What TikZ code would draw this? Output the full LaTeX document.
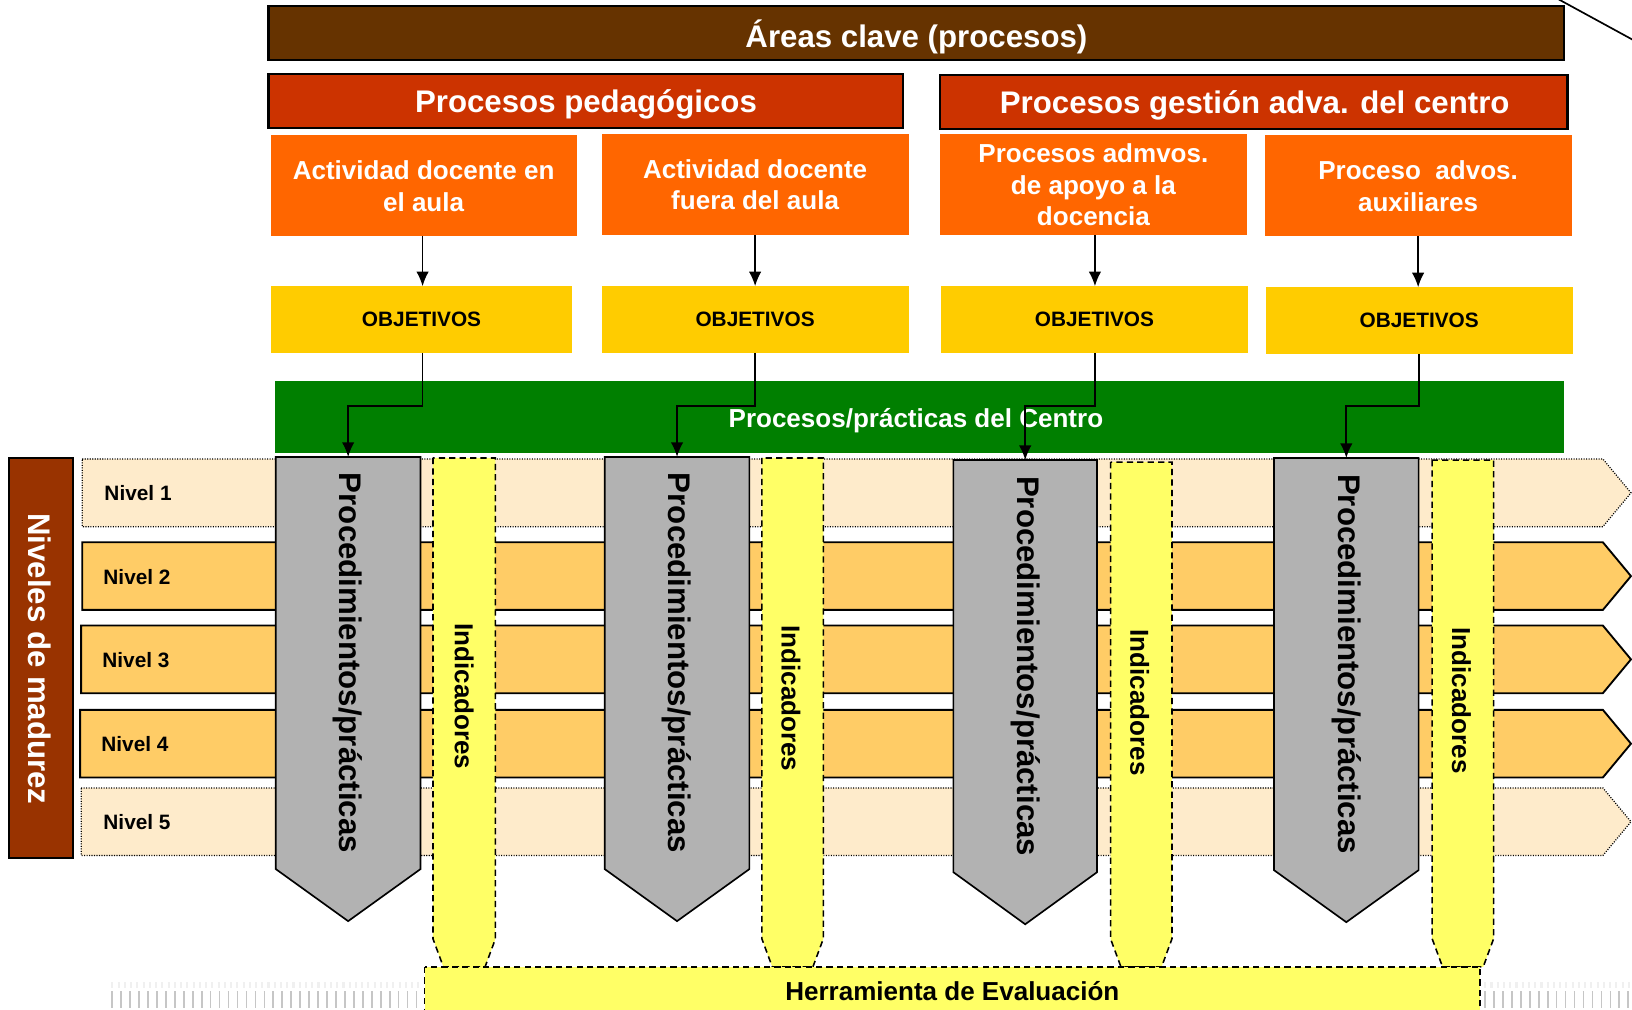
\documentclass[tikz,border=0pt]{standalone}
\usepackage{fontspec}
\setmainfont{Liberation Sans}
\usetikzlibrary{arrows.meta,calc}
\definecolor{cbrown}{HTML}{663300}
\definecolor{cred}{HTML}{CC3300}
\definecolor{corange}{HTML}{FF6600}
\definecolor{cobj}{HTML}{FFCC00}
\definecolor{cgreen}{HTML}{007F00}
\definecolor{cniv}{HTML}{993300}
\definecolor{clight}{HTML}{FEEBCB}
\definecolor{cdark}{HTML}{FFCC66}
\definecolor{cgrey}{HTML}{B2B2B2}
\definecolor{cyel}{HTML}{FFFF66}
\begin{document}
\begin{tikzpicture}[x=0.5pt,y=-0.5pt,
  box/.style={rectangle, inner sep=0pt, outer sep=0pt, align=center},
  titlebox/.style={box, draw=black, line width=1pt, text=white, font=\bfseries\fontsize{15}{18}\selectfont},
  obox/.style={box, fill=corange, text=white, font=\bfseries\fontsize{12.5}{15.3}\selectfont, minimum height=48.5pt},
  objbox/.style={box, fill=cobj, font=\bfseries\fontsize{10}{12}\selectfont, minimum height=32pt},
  conn/.style={-{Latex[length=7pt,width=6pt]}, line width=0.8pt},
  dashy/.style={dash pattern=on 3pt off 2pt, line width=0.75pt},
  lightband/.style={fill=clight, draw=black, line width=0.6pt, dash pattern=on 0.5pt off 0.7pt},
  darkband/.style={fill=cdark, draw=black, line width=0.9pt},
  nivtext/.style={anchor=west, inner sep=0pt, font=\bfseries\fontsize{10}{12}\selectfont},
  pent/.style={fill=cgrey, draw=black, line width=0.8pt},
  pbody/.style={box, minimum width=69.5pt, minimum height=198pt},
  ptext/.style={rotate=-90, font=\bfseries\fontsize{15}{18}\selectfont},
  ind/.style={fill=cyel, draw=black, dashy},
  ibody/.style={box, minimum width=30pt, minimum height=231pt},
  itext/.style={rotate=-90, font=\bfseries\fontsize{12.5}{15}\selectfont},
  ticks/.style={line width=8pt, dash pattern=on 0.8pt off 3.5pt}
]
\clip (0,0) rectangle (1568,970);

% maturity bands
\path[lightband] (79,441) -- (1540,441) -- (1567,473.5) -- (1540,506) -- (79,506) -- cycle;
\path[darkband] (79,521) -- (1540,521) -- (1567,553.5) -- (1540,586) -- (79,586) -- cycle;
\path[darkband] (78,601) -- (1540,601) -- (1567,633.5) -- (1540,666) -- (78,666) -- cycle;
\path[darkband] (77,682) -- (1540,682) -- (1567,714.5) -- (1540,747) -- (77,747) -- cycle;
\path[lightband] (78,757) -- (1540,757) -- (1567,789.5) -- (1540,822) -- (78,822) -- cycle;
\node[nivtext] (n1) at (100,474) {Nivel 1};
\node[nivtext] (n2) at (99,554) {Nivel 2};
\node[nivtext] (n3) at (98,634) {Nivel 3};
\node[nivtext] (n4) at (97,715) {Nivel 4};
\node[nivtext] (n5) at (99,790) {Nivel 5};

% Niveles de madurez
\node[box, fill=cniv, draw=black, line width=1pt, minimum width=30.5pt, minimum height=192pt] (niv) at (39.5,632) {};
\node[rotate=-90, text=white, font=\bfseries\fontsize{15}{18}\selectfont] (nivt) at (38,633) {Niveles de madurez};

% top titles
\node[titlebox, fill=cbrown, minimum width=622.5pt, minimum height=26pt] (areas) at (880.5,32) {};
\node[text=white, font=\bfseries\fontsize{15}{18}\selectfont] (areast) at (880.5,35) {Áreas clave (procesos)};
\draw[line width=0.8pt] (1495,-2) -- (1572,40);
\node[titlebox, fill=cred, minimum width=305pt, minimum height=26pt] (ped) at (563,97) {};
\node[text=white, font=\bfseries\fontsize{15}{18}\selectfont] (pedt) at (563,100) {Procesos pedagógicos};
\node[titlebox, fill=cred, minimum width=301.5pt, minimum height=26pt] (ges) at (1204.5,98) {};
\node[text=white, font=\bfseries\fontsize{15}{18}\selectfont] (gest) at (1205.5,101) {Procesos gestión adva. del centro};

% orange process boxes
\node[obox, minimum width=147pt] (a1) at (407,178.5) {Actividad docente en\\el aula};
\node[obox, minimum width=147.5pt] (a2) at (725.5,177.5) {Actividad docente\\fuera del aula};
\node[obox, minimum width=147.5pt] (a3) at (1050.5,177.5) {Procesos admvos.\\de apoyo a la\\docencia};
\node[obox, minimum width=147.5pt] (a4) at (1362.5,178.5) {Proceso\ \ advos.\\auxiliares};

% objetivos
\node[objbox, minimum width=145pt] (o1) at (405,307) {OBJETIVOS};
\node[objbox, minimum width=147.5pt] (o2) at (725.5,307) {OBJETIVOS};
\node[objbox, minimum width=147.5pt] (o3) at (1051.5,307) {OBJETIVOS};
\node[objbox, minimum width=147.5pt] (o4) at (1363.5,308) {OBJETIVOS};

\draw[conn] (a1.south -| 406,0) -- (o1.north -| 406,0);
\draw[conn] (a2.south) -- (a2.south |- o2.north);
\draw[conn] (a3.south -| 1052,0) -- (o3.north -| 1052,0);
\draw[conn] (a4.south) -- (a4.south |- o4.north);

% green band
\node[box, fill=cgreen, minimum width=619.5pt, minimum height=34.5pt] (cent) at (883.5,400.5) {};
\node[text=white, font=\bfseries\fontsize{12.5}{15}\selectfont] (centt) at (880,404) {Procesos/prácticas del Centro};

% grey pentagons
\node[pbody] (p1) at (334.5,637) {};
\node[pbody] (p2) at (650.5,637) {};
\node[pbody, minimum width=69pt] (p3) at (985,640) {};
\node[pbody] (p4) at (1293.5,638) {};
\foreach \p in {p1,p2,p3,p4}{
  \path[pent] (\p.north west) -- (\p.south west) -- ($(\p.south)+(0,50)$) -- (\p.south east) -- (\p.north east) -- cycle;
}
\node[ptext] (t1) at (p1.center) {Procedimientos/prácticas};
\node[ptext] (t2) at (p2.center) {Procedimientos/prácticas};
\node[ptext] (t3) at (p3.center) {Procedimientos/prácticas};
\node[ptext] (t4) at (p4.center) {Procedimientos/prácticas};

% indicadores
\node[ibody] (i1) at (446,671) {};
\node[ibody, minimum width=29.5pt] (i2) at (761.5,671) {};
\node[ibody, minimum width=29.5pt, minimum height=229pt] (i3) at (1096.5,673) {};
\node[ibody, minimum width=29.5pt, minimum height=230pt] (i4) at (1405.5,672) {};
\foreach \i in {i1,i2,i3,i4}{
  \path[ind] (\i.north west) -- (\i.south west) -- ($(\i.south west)+(10,27)$) -- ($(\i.south east)+(-10,27)$) -- (\i.south east) -- (\i.north east) -- cycle;
}
\node[itext] (it1) at (446,669) {Indicadores};
\node[itext] (it2) at (760,671) {Indicadores};
\node[itext] (it3) at (1095,675) {Indicadores};
\node[itext] (it4) at (1404,673) {Indicadores};

% herramienta
\path[ind] (408,929) rectangle (1422,971);
\node[font=\bfseries\fontsize{12.5}{15}\selectfont] (herr) at (915,952) {Herramienta de Evaluación};

% faint ticks
\draw[gray!45, ticks] (107,960) -- (404,960);
\draw[gray!45, ticks] (1426,960) -- (1568,960);
\draw[gray!12, line width=3pt, dash pattern=on 1pt off 2pt] (107,946) -- (404,946);
\draw[gray!12, line width=3pt, dash pattern=on 1pt off 2pt] (1426,946) -- (1568,946);

% connectors objetivos -> procedimientos
\coordinate (elb) at (0,390);
\draw[conn] (o1.south -| 406,0) -- (elb -| 406,0) -| (p1.north);
\draw[conn] (o2.south) -- (o2.south |- elb) -| (p2.north);
\draw[conn] (o3.south -| 1052,0) -- (elb -| 1052,0) -| (p3.north);
\draw[conn] (o4.south) -- (o4.south |- elb) -| (p4.north);
\end{tikzpicture}
\end{document}
